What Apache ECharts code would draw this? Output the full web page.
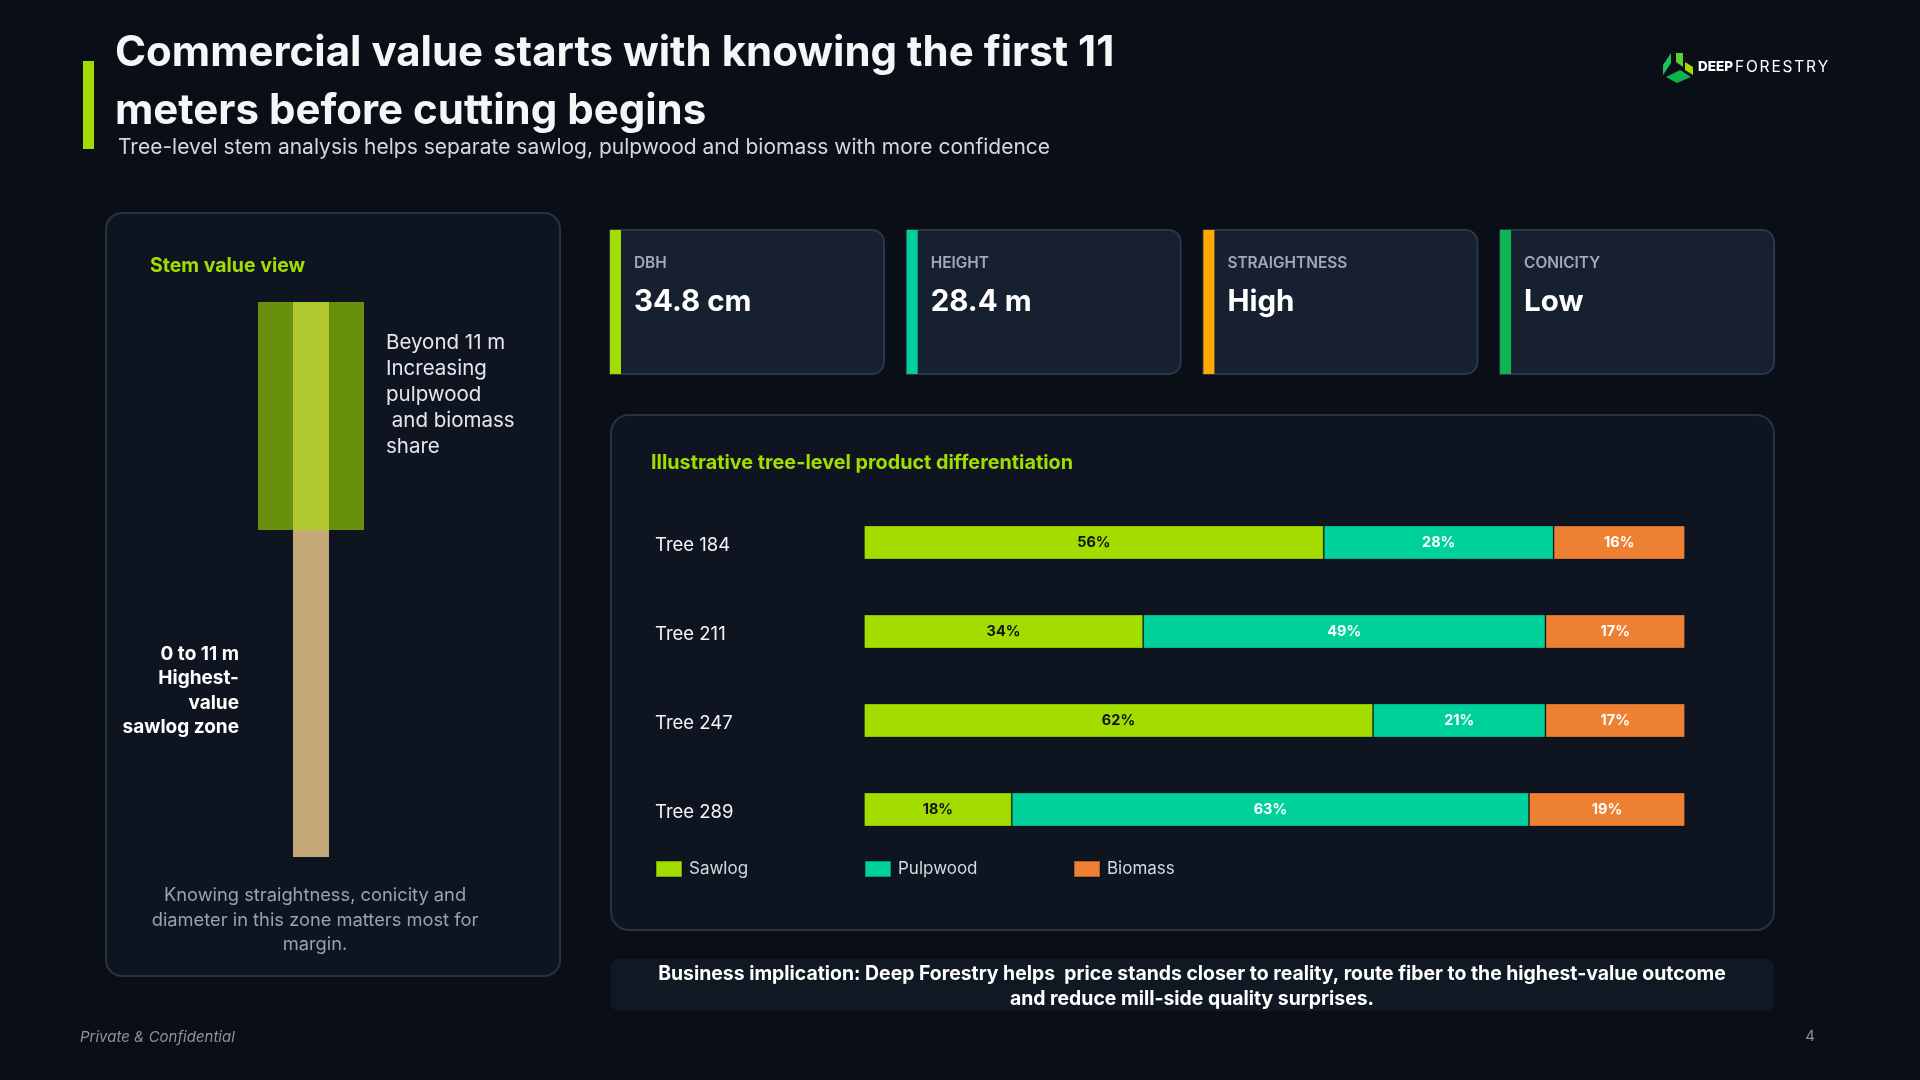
<!DOCTYPE html>
<html>
<head>
<meta charset="utf-8">
<title>Stem value</title>
<script src="https://cdn.jsdelivr.net/npm/echarts@6/dist/echarts.min.js"></script>
<style>
  html, body { margin: 0; padding: 0; background: #0a0f17; }
  #main { width: 1920px; height: 1080px; }
</style>
</head>
<body>
<div id="main"></div>
<script>
// chart data
const trees = ['Tree 184', 'Tree 211', 'Tree 247', 'Tree 289'];
const sawlog = [56, 34, 62, 18];
const pulpwood = [28, 49, 21, 63];
const biomass = [16, 17, 17, 19];

// kpi cards
const kpiLabels = ['DBH', 'HEIGHT', 'STRAIGHTNESS', 'CONICITY'];
const kpiValues = ['34.8 cm', '28.4 m', 'High', 'Low'];
const kpiColors = ['#a3dc00', '#00d09b', '#ffa800', '#0fb552'];

const FONT = 'Inter, "Noto Sans", sans-serif';
const GREEN = '#a3dc00';

let myChart = echarts.init(document.getElementById('main'));

function txt(x, y, text, font, fill, align, extra) {
    return Object.assign({
        type: 'text',
        x: x,
        y: y,
        style: {
            text: text,
            font: font,
            fill: fill,
            textAlign: align || 'left',
            textVerticalAlign: 'middle'
        },
        z: 10
    }, extra || {});
}

// letter-spaced text (for the logo word mark), fitted to a width
const measureCtx = document.createElement('canvas').getContext('2d');
function spacedText(x, y, str, font, fill, width) {
    measureCtx.font = font;
    let natural = measureCtx.measureText(str).width;
    let gap = (width - natural) / (str.length - 1);
    let out = [];
    let cx = x;
    for (let i = 0; i < str.length; i++) {
        out.push(txt(cx, y, str[i], font, fill));
        cx += measureCtx.measureText(str[i]).width + gap;
    }
    return out;
}

let elements = [];

// header
elements.push({ type: 'rect', shape: { x: 83, y: 61, width: 11, height: 88 }, style: { fill: GREEN }, z: 5 });
elements.push(txt(115, 53, 'Commercial value starts with knowing the first 11', '700 42px ' + FONT, '#f4f6f8'));
elements.push(txt(115, 111, 'meters before cutting begins', '700 42px ' + FONT, '#f4f6f8'));
elements.push(txt(118, 148, 'Tree-level stem analysis helps separate sawlog, pulpwood and biomass with more confidence', '400 21px ' + FONT, '#d3d8de'));

// logo
const logoParts = [
    { pts: [[1663, 75], [1663, 65], [1671, 53], [1671, 63]], c: '#1cc35c' },
    { pts: [[1676, 53], [1683, 53], [1683, 67], [1676, 62]], c: '#5ccf33' },
    { pts: [[1685, 62], [1693, 67], [1693, 75], [1685, 70]], c: '#a3dc00' },
    { pts: [[1666, 77], [1680, 70], [1691, 77], [1677, 83]], c: '#10b04e' }
];
logoParts.forEach(function (p) {
    elements.push({ type: 'polygon', shape: { points: p.pts }, style: { fill: p.c }, z: 5 });
});
elements = elements.concat(spacedText(1698, 67, 'DEEP', '800 13.5px ' + FONT, '#ffffff', 35));
elements = elements.concat(spacedText(1735, 67, 'FORESTRY', '400 15.5px ' + FONT, '#ffffff', 93));

// left panel: stem view
elements.push({ type: 'rect', shape: { x: 106, y: 213, width: 454, height: 763, r: 16 }, style: { fill: '#0e1520', stroke: '#283240', lineWidth: 2 }, z: 1 });
elements.push(txt(150, 266, 'Stem value view', '700 19.5px ' + FONT, GREEN));
elements.push({ type: 'rect', shape: { x: 258, y: 302, width: 106, height: 228 }, style: { fill: '#69900c' }, z: 3 });
elements.push({ type: 'rect', shape: { x: 293, y: 302, width: 36, height: 228 }, style: { fill: '#b0c82d' }, z: 4 });
elements.push({ type: 'rect', shape: { x: 293, y: 530, width: 36, height: 327 }, style: { fill: '#c5a877' }, z: 4 });
['Beyond 11 m', 'Increasing', 'pulpwood', ' and biomass', 'share'].forEach(function (s, i) {
    elements.push(txt(386, 343 + i * 26, s, '400 20.5px ' + FONT, '#e4e7eb'));
});
['0 to 11 m', 'Highest-', 'value', 'sawlog zone'].forEach(function (s, i) {
    elements.push(txt(239, 654 + i * 24.5, s, '700 19px ' + FONT, '#ffffff', 'right'));
});
['Knowing straightness, conicity and', 'diameter in this zone matters most for', 'margin.'].forEach(function (s, i) {
    elements.push(txt(315, 896 + i * 24.5, s, '400 18.3px ' + FONT, '#9aa2ad', 'center'));
});

// kpi cards
kpiLabels.forEach(function (label, i) {
    let x = 610 + i * 296.7;
    elements.push({ type: 'rect', shape: { x: x, y: 230, width: 274, height: 144, r: [0, 12, 12, 0] }, style: { fill: '#162030', stroke: '#2b3646', lineWidth: 2 }, z: 1 });
    elements.push({ type: 'rect', shape: { x: x, y: 230, width: 11, height: 144 }, style: { fill: kpiColors[i] }, z: 3 });
    elements.push(txt(x + 24, 263, label, '600 15.4px ' + FONT, '#a2aab5'));
    elements.push(txt(x + 24, 302, kpiValues[i], '700 29.5px ' + FONT, '#ffffff'));
});

// chart panel
elements.push({ type: 'rect', shape: { x: 611, y: 415, width: 1163, height: 515, r: 18 }, style: { fill: '#0e1520', stroke: '#283240', lineWidth: 2 }, z: 0 });
elements.push(txt(651, 463, 'Illustrative tree-level product differentiation', '700 19.8px ' + FONT, GREEN));

// business implication box
elements.push({ type: 'rect', shape: { x: 611, y: 959, width: 1163, height: 52, r: 8 }, style: { fill: '#101824' }, z: 1 });
elements.push(txt(1192, 974, 'Business implication: Deep Forestry helps  price stands closer to reality, route fiber to the highest-value outcome', '700 19.4px ' + FONT, '#ffffff', 'center'));
elements.push(txt(1192, 999, 'and reduce mill-side quality surprises.', '700 19.4px ' + FONT, '#ffffff', 'center'));

// footer
elements.push(txt(80, 1037, 'Private & Confidential', 'italic 400 15px ' + FONT, '#8a929d'));
elements.push(txt(1810, 1036, '4', '400 15px ' + FONT, '#8a929d', 'center'));

function legendAt(name, left) {
    return {
        data: [name],
        left: left,
        top: 860,
        padding: 0,
        icon: 'rect',
        itemWidth: 26,
        itemHeight: 16,
        itemGap: 7,
        textStyle: { color: '#d5dae0', fontSize: 17, fontFamily: FONT, padding: [0, 0, 18, 2] }
    };
}

function barSeries(name, data, color, labelColor) {
    return {
        name: name,
        type: 'bar',
        stack: 'total',
        barWidth: 34,
        data: data,
        itemStyle: {
            color: color,
            borderColor: 'rgba(0,0,0,0.25)',
            borderWidth: 1
        },
        label: {
            show: true,
            position: 'inside',
            formatter: '{c}%',
            color: labelColor,
            fontSize: 14.5,
            fontWeight: 'bold',
            fontFamily: FONT
        },
        z: 5
    };
}

let option = {
    backgroundColor: '#0a0f17',
    animation: false,
    graphic: { elements: elements },
    legend: [
        legendAt('Sawlog', 655),
        legendAt('Pulpwood', 864),
        legendAt('Biomass', 1073)
    ],
    grid: {
        left: 864,
        right: 235,
        top: 498,
        bottom: 226,
        containLabel: false
    },
    xAxis: {
        type: 'value',
        min: 0,
        max: 100,
        show: false
    },
    yAxis: {
        type: 'category',
        data: trees,
        inverse: true,
        axisLine: { show: false },
        axisTick: { show: false },
        splitLine: { show: false },
        axisLabel: {
            align: 'left',
            margin: 209,
            formatter: '{t|{value}}',
            rich: {
                t: {
                    color: '#f2f4f6',
                    fontSize: 18.5,
                    fontFamily: FONT,
                    padding: [6, 0, 0, 0]
                }
            }
        }
    },
    series: [
        barSeries('Sawlog', sawlog, '#a3dd00', '#111111'),
        barSeries('Pulpwood', pulpwood, '#00d19b', '#ffffff'),
        barSeries('Biomass', biomass, '#ee8033', '#ffffff')
    ]
};

myChart.setOption(option);
</script>
</body>
</html>
